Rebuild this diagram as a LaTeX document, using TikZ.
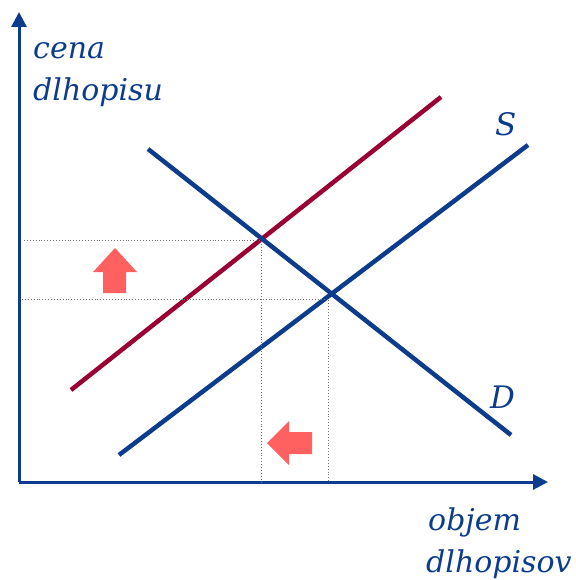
\documentclass[tikz,border=0pt]{standalone}
\usepackage{fontspec}
\setmainfont{DejaVu Serif}
\usetikzlibrary{arrows.meta}
\definecolor{navy}{RGB}{13,60,140}
\definecolor{wine}{RGB}{155,0,50}
\definecolor{salmon}{RGB}{255,96,96}
\begin{document}
\begin{tikzpicture}[x=1pt,y=-1pt,
  axis/.style={navy,line width=3pt,-{Triangle[length=15pt,width=15pt]}},
  curve/.style={line width=4.5pt},
  guide/.style={gray!90!black,line width=0.9pt,dotted},
  lbl/.style={text=navy,font=\itshape\fontsize{30}{30}\selectfont,inner sep=0pt},
  big/.style={text=navy,font=\itshape\fontsize{31}{31}\selectfont,inner sep=0pt},
  shiftarrow/.style={fill=salmon,draw=none}]
\useasboundingbox (0,0) rectangle (575,580);
% axes
\coordinate (O) at (19,482);
\coordinate (Ytip) at (19,12);
\coordinate (Xtip) at (548,482);
\draw[axis] (O) -- (Ytip);
\draw[axis] (O) -- (Xtip);
% curves
\coordinate (R1) at (71,390); \coordinate (R2) at (441,97);
\coordinate (S1) at (119,455); \coordinate (S2) at (528,145);
\coordinate (D1) at (148,149); \coordinate (D2) at (511,435);
\draw[curve,wine] (R1) -- (R2);
\draw[curve,navy] (S1) -- (S2);
\draw[curve,navy] (D1) -- (D2);
% guides
\coordinate (E1) at (261,240); \coordinate (E2) at (328,299);
\coordinate (H1) at (24,240); \coordinate (H2) at (22,299);
\coordinate (V1) at (261,482); \coordinate (V2) at (328,482);
\draw[guide] (H1) -- (E1) -- (V1);
\draw[guide] (H2) -- (E2) -- (V2);
% shift arrows
\fill[shiftarrow] (103,293) -- (103,272) -- (93,272) -- (115,248) -- (137,272) -- (126,272) -- (126,293) -- cycle;
\fill[shiftarrow] (312,432) -- (289,432) -- (289,421) -- (267,443) -- (289,465) -- (289,454) -- (312,454) -- cycle;
% labels
\node[lbl,anchor=base west] (yl1) at (33,59) {cena};
\node[lbl,anchor=base west] (yl2) at (33,101) {dlhopisu};
\node[lbl,anchor=base west] (xl1) at (428,530) {objem};
\node[lbl,anchor=base west] (xl2) at (426,572) {dlhopisov};
\node[big,anchor=base west] (Sl) at (495,136) {S};
\node[big,anchor=base west] (Dl) at (490,408) {D};
\end{tikzpicture}
\end{document}
